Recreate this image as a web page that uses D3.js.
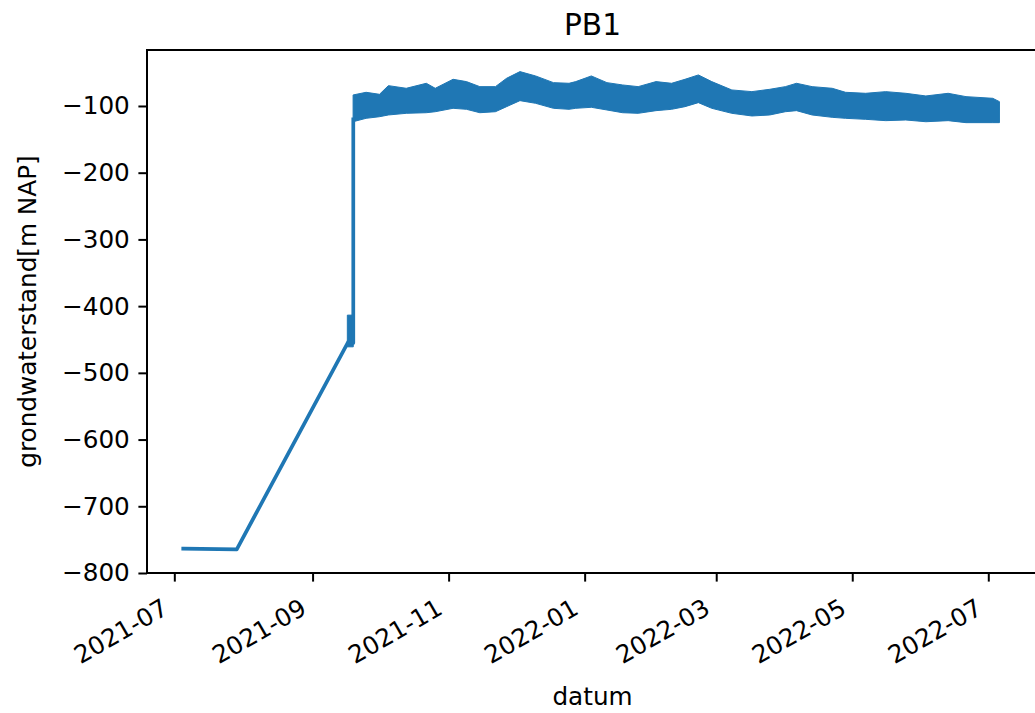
<!DOCTYPE html>
<html><head><meta charset="utf-8">
<script src="https://cdn.jsdelivr.net/npm/d3@7"></script>
<style>
body{margin:0;background:#fff}
svg{display:block}
text{font-family:"DejaVu Sans",sans-serif;fill:#000}
</style>
</head><body>
<svg id="chart" width="1035" height="713"></svg>
<script>
// ---- data ----
const chartTitle = "PB1";
const xLabel = "datum";
const yLabel = "grondwaterstand[m NAP]";
const xTickDates = ["2021-07-01","2021-09-01","2021-11-01","2022-01-01","2022-03-01","2022-05-01","2022-07-01"];
const xTickLabels = ["2021-07","2021-09","2021-11","2022-01","2022-03","2022-05","2022-07"];
const yTickValues = [-800,-700,-600,-500,-400,-300,-200,-100];

// single-line part of the series (before the sensor jump)
const lineDates  = ["2021-07-05","2021-07-29","2021-09-17","2021-09-19T06:00","2021-09-19T06:00"];
const lineValues = [-763.5,-764.5,-453.6,-455,-120];

// short dense oscillation just before the jump (envelope)
const spikeDates = ["2021-09-16T14:00","2021-09-19T06:00"];
const spikeUpper = [-413.5,-413.5];
const spikeLower = [-461,-461];

// dense oscillating record after the jump (upper / lower envelope)
const bandDates = ["2021-09-19T04:00","2021-09-25","2021-10-01","2021-10-05","2021-10-13","2021-10-22","2021-10-26",
  "2021-11-03","2021-11-09","2021-11-15","2021-11-22","2021-11-27","2021-12-03","2021-12-10","2021-12-18",
  "2021-12-25","2021-12-28","2022-01-04","2022-01-11","2022-01-18","2022-01-25","2022-02-02","2022-02-09",
  "2022-02-15","2022-02-21","2022-02-27","2022-03-08","2022-03-17","2022-03-25","2022-04-01","2022-04-06",
  "2022-04-13","2022-04-22","2022-04-28","2022-05-07","2022-05-16","2022-05-25","2022-06-03","2022-06-13",
  "2022-06-21","2022-07-03","2022-07-06"];
const bandUpper = [-83.5,-79.5,-82.5,-69.5,-73.5,-66.0,-73.5,
  -60.0,-63.5,-71.0,-71.0,-58.5,-48.5,-55.0,-65.0,
  -66.0,-63.5,-55.0,-65.0,-68.5,-71.0,-63.5,-66.0,
  -60.0,-53.5,-63.5,-76.0,-78.5,-75.0,-71.0,-66.0,
  -71.0,-73.5,-79.5,-81.0,-78.5,-81.0,-85.0,-81.0,
  -86.0,-88.5,-93.5];
const bandLower = [-123.6,-118.5,-116.1,-113.5,-111.0,-110.1,-108.6,
  -103.5,-105.0,-110.1,-108.6,-101.0,-92.0,-96.0,-103.5,
  -105.0,-103.5,-102.0,-106.0,-110.1,-111.0,-107.0,-105.0,
  -101.0,-95.0,-103.5,-111.0,-115.0,-113.5,-108.6,-107.0,
  -113.5,-117.0,-118.5,-120.0,-122.0,-121.0,-123.6,-122.0,
  -125.0,-125.0,-125.0];

// ---- drawing ----
const parse = s => new Date(s.length === 10 ? s + "T00:00:00Z" : s + ":00Z");
const L = 147, R = 1038, T = 50, B = 573;
const color = "#1f77b4";
const svg = d3.select("#chart");

const x = d3.scaleUtc().domain([parse("2021-06-18T18:00"), parse("2022-07-23T07:00")]).range([L, R]);
const y = d3.scaleLinear().domain([-800, -16.1]).range([B, T]);

svg.append("defs").append("clipPath").attr("id","clip")
  .append("rect").attr("x",L).attr("y",T).attr("width",R-L).attr("height",B-T);
const plot = svg.append("g").attr("clip-path","url(#clip)");

const mkArea = (dates, up, lo) => d3.area()
  .x((d,i) => x(parse(dates[i])))
  .y0((d,i) => y(lo[i]))
  .y1((d,i) => y(up[i]))(dates);

plot.append("path").attr("d", mkArea(spikeDates, spikeUpper, spikeLower))
  .attr("fill", color).attr("stroke", color).attr("stroke-width", 1);
plot.append("path").attr("d", mkArea(bandDates, bandUpper, bandLower))
  .attr("fill", color).attr("stroke", color).attr("stroke-width", 1).attr("stroke-linejoin","round");

const line = d3.line().x((d,i) => x(parse(lineDates[i]))).y((d,i) => y(lineValues[i]));
plot.append("path").attr("d", line(lineDates))
  .attr("fill","none").attr("stroke", color).attr("stroke-width", 3.7)
  .attr("stroke-linejoin","round").attr("stroke-linecap","square");

// axes
const tickFont = 24.7;
const xAxis = d3.axisBottom(x).tickValues(xTickDates.map(parse))
  .tickFormat((d,i) => xTickLabels[i]).tickSize(8.6).tickPadding(8.6);
const gx = svg.append("g").attr("transform", `translate(0,${B})`).call(xAxis);
gx.select(".domain").remove();
gx.selectAll(".tick line").attr("stroke","#000").attr("stroke-width",2);
gx.selectAll(".tick text")
  .attr("font-size", tickFont).attr("font-family","DejaVu Sans").attr("fill","#222")
  .attr("text-anchor","end").attr("dy", null)
  .attr("y", 0)
  .attr("transform", "translate(-5,40) rotate(-30)");

const yAxis = d3.axisLeft(y).tickValues(yTickValues)
  .tickFormat(d => d3.format("d")(d).replace("-", "\u2212")).tickSize(8.6).tickPadding(8.6);
const gy = svg.append("g").attr("transform", `translate(${L},0)`).call(yAxis);
gy.select(".domain").remove();
gy.selectAll(".tick line").attr("stroke","#000").attr("stroke-width",2);
gy.selectAll(".tick text").attr("font-size", tickFont).attr("font-family","DejaVu Sans").attr("fill","#222");

// spines
svg.append("path").attr("d", `M${R},${T}H${L}V${B}H${R}`)
  .attr("fill","none").attr("stroke","#000").attr("stroke-width",2);

// labels
svg.append("text").attr("x", (L+R)/2).attr("y", 35).attr("text-anchor","middle").attr("fill","#222")
  .attr("font-size", 29.6).text(chartTitle);
svg.append("text").attr("x", (L+R)/2).attr("y", 705).attr("text-anchor","middle").attr("fill","#222")
  .attr("font-size", tickFont).text(xLabel);
svg.append("text").attr("transform", `translate(36,${(T+B)/2}) rotate(-90)`).attr("fill","#222")
  .attr("text-anchor","middle").attr("font-size", tickFont).text(yLabel);
</script>
</body></html>
